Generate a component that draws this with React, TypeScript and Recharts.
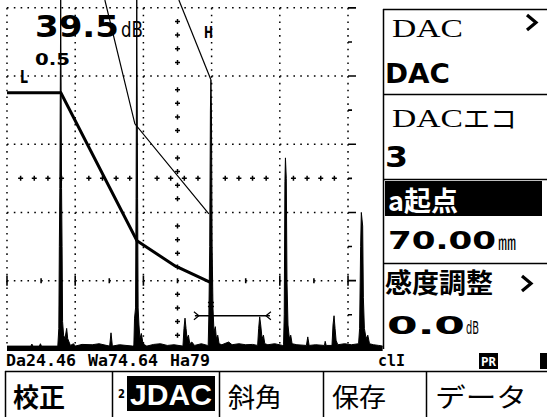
import React from 'react';
import { ComposedChart, XAxis, YAxis, Area, Line, Scatter, ReferenceLine } from 'recharts';

// A-scan trace: x = % of screen width, a = % of screen height
const echoTrace = [
  { x: 0, a: 0.8 }, { x: 7.0, a: 0.8 }, { x: 7.3, a: 1.4 }, { x: 7.6, a: 0.8 },
  { x: 9.5, a: 0.8 }, { x: 9.8, a: 1.5 }, { x: 10.1, a: 0.8 }, { x: 14.9, a: 0.8 },
  { x: 15.2, a: 6 }, { x: 15.35, a: 30 }, { x: 15.5, a: 47 }, { x: 15.75, a: 102.3 },
  { x: 16.0, a: 47 }, { x: 16.15, a: 30 }, { x: 16.3, a: 8 }, { x: 16.6, a: 4 },
  { x: 17.0, a: 3 }, { x: 17.5, a: 6 }, { x: 17.8, a: 3 }, { x: 18.2, a: 2 },
  { x: 18.6, a: 1 }, { x: 19.5, a: 1.5 }, { x: 20, a: 0.8 }, { x: 22, a: 1.3 },
  { x: 25, a: 1.2 }, { x: 27, a: 1.5 }, { x: 30.1, a: 0.8 }, { x: 30.5, a: 4.7 },
  { x: 30.9, a: 0.8 }, { x: 33, a: 1.2 }, { x: 36.9, a: 0.8 },
  { x: 37.2, a: 1 }, { x: 37.4, a: 9 }, { x: 37.7, a: 12 }, { x: 37.85, a: 44 },
  { x: 38.05, a: 102.3 }, { x: 38.3, a: 44 }, { x: 38.45, a: 12 }, { x: 38.7, a: 7 },
  { x: 39.0, a: 3 }, { x: 39.4, a: 4.5 }, { x: 39.8, a: 2 }, { x: 40.3, a: 1.2 },
  { x: 41, a: 0.8 }, { x: 43, a: 1.3 }, { x: 45, a: 1.5 }, { x: 47, a: 1 },
  { x: 49, a: 1.2 }, { x: 51.6, a: 0.8 }, { x: 51.9, a: 6 }, { x: 52.2, a: 9 },
  { x: 52.5, a: 6 }, { x: 52.8, a: 3 }, { x: 53.2, a: 4 }, { x: 53.6, a: 1.5 },
  { x: 54.2, a: 2 }, { x: 55, a: 1 }, { x: 57, a: 1.5 }, { x: 58.8, a: 1 },
  { x: 59.0, a: 1 }, { x: 59.2, a: 10 }, { x: 59.45, a: 30 }, { x: 59.65, a: 70 },
  { x: 59.8, a: 78.9 }, { x: 59.95, a: 70 }, { x: 60.15, a: 30 }, { x: 60.4, a: 12 },
  { x: 60.7, a: 5 }, { x: 61.1, a: 6.5 }, { x: 61.4, a: 3 }, { x: 61.8, a: 4 },
  { x: 62.2, a: 1.5 }, { x: 63, a: 1.2 }, { x: 65, a: 2 }, { x: 66, a: 1.2 },
  { x: 68, a: 1.5 }, { x: 70, a: 1.2 }, { x: 72, a: 1.3 }, { x: 73.5, a: 1 },
  { x: 73.8, a: 6 }, { x: 74.1, a: 9.4 }, { x: 74.4, a: 7 }, { x: 74.8, a: 3 },
  { x: 75.2, a: 4 }, { x: 75.6, a: 1.5 }, { x: 76.5, a: 1.2 }, { x: 78.5, a: 1.5 },
  { x: 80.8, a: 1 }, { x: 81.1, a: 1.2 }, { x: 81.3, a: 10 }, { x: 81.5, a: 49 },
  { x: 81.65, a: 56 }, { x: 81.9, a: 50 }, { x: 82.1, a: 20 }, { x: 82.4, a: 7 },
  { x: 82.8, a: 3 }, { x: 83.2, a: 4 }, { x: 83.6, a: 1.5 }, { x: 85, a: 1.2 },
  { x: 87.8, a: 1 }, { x: 88.2, a: 3.5 }, { x: 88.6, a: 1 }, { x: 90.5, a: 1.2 },
  { x: 93.1, a: 1 }, { x: 93.3, a: 2.2 }, { x: 93.6, a: 1 }, { x: 95.3, a: 1 },
  { x: 95.6, a: 7 }, { x: 95.9, a: 9.7 }, { x: 96.2, a: 6 }, { x: 96.5, a: 2.5 },
  { x: 97, a: 1.2 }, { x: 99, a: 1.5 }, { x: 101, a: 1.2 }, { x: 103.1, a: 1.5 },
  { x: 103.4, a: 6 }, { x: 103.7, a: 30 }, { x: 103.9, a: 40 }, { x: 104.3, a: 36 },
  { x: 104.5, a: 15 }, { x: 104.8, a: 6 }, { x: 105.3, a: 3 }, { x: 105.8, a: 4 },
  { x: 106.3, a: 1.5 }, { x: 107.5, a: 1.2 }, { x: 109, a: 1 }, { x: 110.2, a: 0.8 },
];

// DAC curves
const dacMain = [
  { x: 0, a: 75.1 }, { x: 15.8, a: 75.1 }, { x: 38.1, a: 31.7 }, { x: 49.3, a: 24.3 }, { x: 59.8, a: 19.4 },
];
const dacUpper = [{ x: 28.7, a: 102.3 }, { x: 37.5, a: 66 }, { x: 59.2, a: 39.6 }];
const dacH = [{ x: 50.4, a: 102.3 }, { x: 59.8, a: 78.9 }];

// gate and echo marker
const gateLine = [{ x: 55.1, a: 9.7 }, { x: 77.1, a: 9.7 }];
const gateEnds = [{ x: 55.1, a: 9.7, dir: 1 }, { x: 77.1, a: 9.7, dir: -1 }];
const echoMark = [{ x: 59.8, a: 13 }];

// graticule
const majorDivs = [0, 20, 40, 60, 80, 100];
const gridRows = [20, 40, 60, 80, 100];
const centerSteps = [4, 8, 12, 16, 24, 28, 32, 36, 44, 48, 52, 56, 64, 68, 72, 76, 84, 88, 92, 96];
const halfDivs = [10, 30, 50, 70, 90];

// status readouts
const readouts = ['Da24.46', 'Wa74.64', 'Ha79'];

const DOT = '1.6 5.22';

const plus = (p: any) => (
  <path d={`M${p.cx - 2.5},${p.cy}h5M${p.cx},${p.cy - 2.5}v5`} stroke="#000" strokeWidth={1.5} />
);
const rightDash = (len: number) => (p: any) => (
  <line x1={p.cx} x2={p.cx + len} y1={p.cy} y2={p.cy} stroke="#000" strokeWidth={1.6} />
);
const vTick = (len: number) => (p: any) => (
  <line x1={p.cx} x2={p.cx} y1={p.cy - len / 2} y2={p.cy + len / 2} stroke="#000" strokeWidth={1.6} />
);
const gateEnd = (p: any) => {
  const d = p.payload.dir;
  return (
    <path d={`M${p.cx - d * 1},${p.cy - 4}L${p.cx + d * 4},${p.cy}L${p.cx - d * 1},${p.cy + 4}`}
      fill="none" stroke="#000" strokeWidth={1.2} />
  );
};
const eqMark = (p: any) => (
  <path d={`M${p.cx - 3},${p.cy - 2}h6M${p.cx - 3},${p.cy + 2}h6`} stroke="#000" strokeWidth={1.4} />
);

const cjk = '"Noto Sans CJK JP", sans-serif';
const sans = '"DejaVu Sans", sans-serif';
const serif = '"Liberation Serif", serif';
const mono = '"DejaVu Sans Mono", monospace';

const menuEdges = [5, 112, 219, 323, 426];
const readoutX = [6, 88, 170];

const Chevron = ({ x, y }: { x: number; y: number }) => (
  <path d={`M${x},${y}l9,7.5l-9,7.5`} fill="none" stroke="#000" strokeWidth={3.2} />
);

const Overlay = () => (
  <svg width={547} height={417} style={{ position: 'absolute', left: 0, top: 0 }}>
    {/* readouts on the screen */}
    <text x={35} y={37} fontFamily={sans} fontWeight="bold" fontSize={30} textLength={84} lengthAdjust="spacingAndGlyphs">39.5</text>
    <text x={121} y={37} fontFamily={sans} fontSize={22} textLength={22} lengthAdjust="spacingAndGlyphs">dB</text>
    <text x={35} y={65} fontFamily={sans} fontWeight="bold" fontSize={16} textLength={35} lengthAdjust="spacingAndGlyphs">0.5</text>
    <text x={20} y={83} fontFamily={sans} fontWeight="bold" fontSize={17} textLength={8} lengthAdjust="spacingAndGlyphs">L</text>
    <text x={204} y={38} fontFamily={sans} fontWeight="bold" fontSize={16} textLength={9} lengthAdjust="spacingAndGlyphs">H</text>

    {/* side panel */}
    <rect x={383} y={9} width={170} height={340} fill="#fff" />
    <path d="M383.5,9V349M383,9.5H547M383,94.5H547M383,179.5H547M383,263.5H547" stroke="#000" strokeWidth={1.5} fill="none" />
    <text x={392} y={37} fontFamily={serif} fontSize={26} textLength={71} lengthAdjust="spacingAndGlyphs">DAC</text>
    <Chevron x={527} y={15} />
    <text x={385} y={83} fontFamily={sans} fontWeight="bold" fontSize={27} textLength={65} lengthAdjust="spacingAndGlyphs">DAC</text>
    <text x={392} y={127} fontFamily={serif} fontSize={26} textLength={71} lengthAdjust="spacingAndGlyphs">DAC</text>
    <text x={463} y={128} fontFamily={cjk} fontSize={25} textLength={54} lengthAdjust="spacingAndGlyphs">エコ</text>
    <text x={385} y={167} fontFamily={sans} fontWeight="bold" fontSize={28} textLength={23} lengthAdjust="spacingAndGlyphs">3</text>
    <rect x={385} y={181} width={157} height={35} fill="#000" />
    <text x={388} y={211} fontFamily={cjk} fontWeight="bold" fontSize={27} fill="#fff" textLength={70} lengthAdjust="spacingAndGlyphs">a起点</text>
    <text x={388} y={249} fontFamily={sans} fontWeight="bold" fontSize={25} textLength={108} lengthAdjust="spacingAndGlyphs">70.00</text>
    <text x={498} y={250} fontFamily={cjk} fontSize={20} textLength={18} lengthAdjust="spacingAndGlyphs">㎜</text>
    <text x={385} y={293} fontFamily={cjk} fontWeight="bold" fontSize={27} textLength={108} lengthAdjust="spacingAndGlyphs">感度調整</text>
    <Chevron x={522} y={276} />
    <text x={387} y={334} fontFamily={sans} fontWeight="bold" fontSize={25} textLength={78} lengthAdjust="spacingAndGlyphs">0.0</text>
    <text x={466} y={334} fontFamily={sans} fontSize={18} textLength={13} lengthAdjust="spacingAndGlyphs">dB</text>

    {/* status line */}
    {readouts.map((r, i) => (
      <text key={r} x={readoutX[i]} y={366} fontFamily={mono} fontWeight="bold" fontSize={15} textLength={r.length * 10} lengthAdjust="spacingAndGlyphs">{r}</text>
    ))}
    <text x={378} y={366} fontFamily={mono} fontWeight="bold" fontSize={15} textLength={27} lengthAdjust="spacingAndGlyphs">clI</text>
    <rect x={479} y={353} width={19} height={16} fill="#000" />
    <text x={481} y={366} fontFamily={mono} fontWeight="bold" fontSize={13} fill="#fff" textLength={15} lengthAdjust="spacingAndGlyphs">PR</text>
    <rect x={540} y={353} width={7} height={16} fill="#000" />

    {/* menu bar */}
    <path d={`M5,371.5H547${menuEdges.map((e) => `M${e + 0.5},371V417`).join('')}`} stroke="#000" strokeWidth={1.5} fill="none" />
    <text x={13} y={407} fontFamily={cjk} fontWeight="bold" fontSize={26} textLength={52} lengthAdjust="spacingAndGlyphs">校正</text>
    <text x={118} y={398} fontFamily={sans} fontWeight="bold" fontSize={13} textLength={7} lengthAdjust="spacingAndGlyphs">2</text>
    <rect x={127} y={376} width={88} height={35} fill="#000" />
    <text x={130} y={405} fontFamily={'"Liberation Sans", sans-serif'} fontWeight="bold" fontSize={29} fill="#fff" textLength={82} lengthAdjust="spacingAndGlyphs">JDAC</text>
    <text x={228} y={407} fontFamily={cjk} fontSize={26} textLength={54} lengthAdjust="spacingAndGlyphs">斜角</text>
    <text x={332} y={407} fontFamily={cjk} fontSize={26} textLength={54} lengthAdjust="spacingAndGlyphs">保存</text>
    <text x={435} y={407} fontFamily={cjk} fontSize={26} textLength={92} lengthAdjust="spacingAndGlyphs">データ</text>
  </svg>
);

export default function App() {
  return (
    <div style={{ position: 'absolute', left: 0, top: 0, width: 547, height: 417, background: '#fff', overflow: 'hidden' }}>
      <ComposedChart width={547} height={417} margin={{ top: 0, right: 164.2, bottom: 64.75, left: 0 }}>
        <XAxis type="number" dataKey="x" domain={[-2.05, 110.2]} allowDataOverflow hide />
        <YAxis type="number" dataKey="a" domain={[-1, 102.3]} allowDataOverflow hide />

        {majorDivs.map((v) => (
          <ReferenceLine key={`v${v}`} segment={[{ x: v, y: 100 }, { x: v, y: 0 }]} stroke="#000" strokeWidth={1.5} strokeDasharray={DOT} />
        ))}
        {gridRows.map((v) => (
          <ReferenceLine key={`h${v}`} segment={[{ x: 0, y: v }, { x: 100, y: v }]} stroke="#000" strokeWidth={1.5} strokeDasharray={DOT} />
        ))}
        <Scatter data={centerSteps.map((s) => ({ x: s, a: 50 }))} shape={plus} isAnimationActive={false} />
        <Scatter data={centerSteps.map((s) => ({ x: 50, a: s }))} shape={plus} isAnimationActive={false} />
        <Scatter data={majorDivs.map((s) => ({ x: 100, a: s }))} shape={rightDash(8)} isAnimationActive={false} />
        <Scatter data={halfDivs.map((s) => ({ x: 100, a: s }))} shape={rightDash(4)} isAnimationActive={false} />
        <Scatter data={majorDivs.map((s) => ({ x: s, a: 20 }))} shape={vTick(10)} isAnimationActive={false} />
        <Scatter data={halfDivs.map((s) => ({ x: s, a: 20 }))} shape={vTick(5)} isAnimationActive={false} />

        <Area data={echoTrace} dataKey="a" type="linear" baseValue={-0.6} fill="#000" fillOpacity={1} stroke="#000" strokeWidth={1} isAnimationActive={false} />

        <Line data={dacMain} dataKey="a" type="linear" stroke="#000" strokeWidth={3} dot={false} isAnimationActive={false} />
        <Line data={dacUpper} dataKey="a" type="linear" stroke="#000" strokeWidth={1.2} dot={false} isAnimationActive={false} />
        <Line data={dacH} dataKey="a" type="linear" stroke="#000" strokeWidth={1.2} dot={false} isAnimationActive={false} />
        <Line data={gateLine} dataKey="a" type="linear" stroke="#000" strokeWidth={1.3} dot={false} isAnimationActive={false} />
        <Scatter data={gateEnds} shape={gateEnd} isAnimationActive={false} />
        <Scatter data={echoMark} shape={eqMark} isAnimationActive={false} />
      </ComposedChart>
      <Overlay />
    </div>
  );
}
